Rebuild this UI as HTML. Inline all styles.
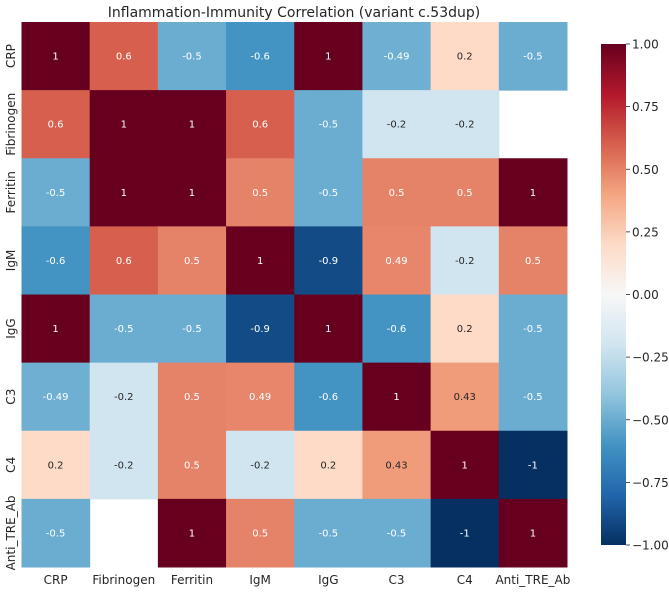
<!DOCTYPE html>
<html><head><meta charset="utf-8"><style>
body{margin:0;background:#fff;font-family:"Liberation Sans","DejaVu Sans",sans-serif}
svg text{font-family:"DejaVu Sans","Liberation Sans",sans-serif}
</style></head><body>
<svg id="c" width="669" height="589" xmlns="http://www.w3.org/2000/svg">
<defs><linearGradient id="cg" x1="0" y1="1" x2="0" y2="0">
<stop offset="0" stop-color="#053061"/><stop offset="0.1" stop-color="#2166ac"/><stop offset="0.2" stop-color="#4393c3"/><stop offset="0.3" stop-color="#92c5de"/><stop offset="0.4" stop-color="#d1e5f0"/><stop offset="0.5" stop-color="#f7f7f7"/><stop offset="0.6" stop-color="#fddbc7"/><stop offset="0.7" stop-color="#f4a582"/><stop offset="0.8" stop-color="#d6604d"/><stop offset="0.9" stop-color="#b2182b"/><stop offset="1" stop-color="#67001f"/>
</linearGradient></defs>
<text x="294" y="17" font-size="14" text-anchor="middle" fill="#262626">Inflammation-Immunity Correlation (variant c.53dup)</text>
<g id="cells"></g>
<rect x="601" y="44" width="25" height="501" fill="url(#cg)"/>
<g id="cb"></g>
</svg>
<script>
const labels=["CRP","Fibrinogen","Ferritin","IgM","IgG","C3","C4","Anti_TRE_Ab"];
const rowCRP=[1,0.6,-0.5,-0.6,1,-0.49,0.2,-0.5];
const rowFib=[0.6,1,1,0.6,-0.5,-0.2,-0.2,null];
const rowFer=[-0.5,1,1,0.5,-0.5,0.5,0.5,1];
const rowIgM=[-0.6,0.6,0.5,1,-0.9,0.49,-0.2,0.5];
const rowIgG=[1,-0.5,-0.5,-0.9,1,-0.6,0.2,-0.5];
const rowC3=[-0.49,-0.2,0.5,0.49,-0.6,1,0.43,-0.5];
const rowC4=[0.2,-0.2,0.5,-0.2,0.2,0.43,1,-1];
const rowAnti=[-0.5,null,1,0.5,-0.5,-0.5,-1,1];
const matrix=[rowCRP,rowFib,rowFer,rowIgM,rowIgG,rowC3,rowC4,rowAnti];
const cbTicks=[1,0.75,0.5,0.25,0,-0.25,-0.5,-0.75,-1];
const cbTickLabels=["1.00","0.75","0.50","0.25","0.00","\u22120.25","\u22120.50","\u22120.75","\u22121.00"];
const NS="http://www.w3.org/2000/svg";
const L=21.5,T=22,W=545.5,H=545,n=labels.length,cw=W/n,ch=H/n;
const xS=i=>L+i*cw, yS=i=>T+i*ch;
const stops=["#053061","#2166ac","#4393c3","#92c5de","#d1e5f0","#f7f7f7","#fddbc7","#f4a582","#d6604d","#b2182b","#67001f"].map(h=>[1,3,5].map(k=>parseInt(h.substr(k,2),16)));
function col(v){let t=(v+1)/2*10;let i=Math.min(9,Math.floor(t)),f=t-i;const c=stops[i].map((a,k)=>a+(stops[i+1][k]-a)*f);return c;}
function lin(c){c/=255;return c<=0.03928?c/12.92:Math.pow((c+0.055)/1.055,2.4);}
function el(tag,a,p){const e=document.createElementNS(NS,tag);for(const k in a)e.setAttribute(k,a[k]);p.appendChild(e);return e;}
const g=document.getElementById('cells');
matrix.forEach((row,r)=>row.forEach((v,c)=>{
 if(v===null)return;
 const rgb=col(v);
 const rc=el('rect',{x:xS(c),y:yS(r),width:cw+0.5,height:ch+0.5,fill:`rgb(${rgb.map(Math.round).join(',')})`},g);
 
 
 const lum=0.2126*lin(rgb[0])+0.7152*lin(rgb[1])+0.0722*lin(rgb[2]);
 const t=el('text',{x:xS(c)+cw/2,y:yS(r)+ch/2+3.5,'font-size':10,'text-anchor':'middle',fill:lum>0.408?'#262626':'#ffffff'},g);
 t.textContent=String(v);
 
 
}));
labels.forEach((lb,i)=>{
 const tx=el('text',{x:xS(i)+cw/2,y:584,'font-size':12,'text-anchor':'middle',fill:'#262626'},g);
 tx.textContent=lb;
 
 
 const cy=yS(i)+ch/2;
 const ty=el('text',{x:0,y:0,'font-size':12,'text-anchor':'middle',fill:'#262626',transform:`translate(15,${cy}) rotate(-90)`},g);
 ty.textContent=lb;
 
 
});
const cb=document.getElementById('cb');
const cbY=v=>545-(v+1)/2*501;
cbTicks.forEach((v,i)=>{
 const y=cbY(v);
 const ln=el('line',{x1:626,x2:630,y1:y,y2:y,stroke:'#262626','stroke-width':0.8},cb);
 
 
 const t=el('text',{x:632,y:y+4.5,'font-size':12,fill:'#262626'},cb);
 t.textContent=cbTickLabels[i];
 
 
});
</script>
</body></html>
